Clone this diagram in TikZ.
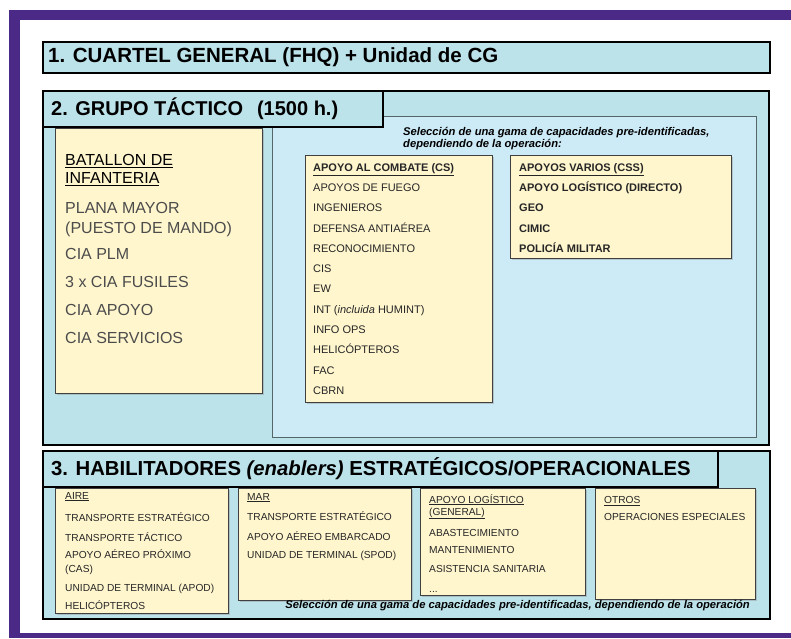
\documentclass[tikz,border=0pt]{standalone}
\usepackage{fontspec}
\setmainfont{Liberation Sans}
\usetikzlibrary{positioning,shadows}

\definecolor{framepurple}{RGB}{74,42,134}
\definecolor{capblue}{RGB}{188,226,234}
\definecolor{panelblue}{RGB}{205,234,247}
\definecolor{noteyellow}{RGB}{255,246,206}

\begin{document}
\begin{tikzpicture}[x=1pt,y=-1pt,
    outer box/.style={draw=black,line width=2.2pt,fill=capblue,anchor=north west,inner sep=0pt,
                      drop shadow={shadow xshift=1pt,shadow yshift=-1pt,opacity=.4}},
    tab box/.style={draw=black,line width=1.8pt,fill=capblue,anchor=north west,inner sep=0pt},
    panel box/.style={draw=black!55!capblue,line width=1pt,fill=panelblue,anchor=north west,inner sep=0pt},
    unit box/.style={draw=black!75,line width=1.1pt,fill=noteyellow,anchor=north west,inner sep=0pt,
                     drop shadow={shadow xshift=1pt,shadow yshift=-1pt,opacity=.35}},
    head text/.style={font=\fontsize{20}{24}\selectfont\bfseries,inner sep=0pt,anchor=west},
    item list/.style={align=left,anchor=north west,inner sep=0pt,text=black!85},
    note text/.style={font=\fontsize{11.2}{12}\selectfont\bfseries\itshape,inner sep=0pt,text=black}]
  \useasboundingbox (0,0) rectangle (791,638);
  \fill[framepurple] (9,10) rectangle (791,638);
  \fill[white] (20,20) rectangle (791,633);

  % 1. cuartel general
  \node[outer box,minimum width=727pt,minimum height=31pt] (hq) at (42,41) {};
  \node[head text,font=\fontsize{20.5}{24}\selectfont\bfseries,right=6pt of hq.west] (hqtitle)
    {1. CUARTEL GENERAL (FHQ) + Unidad de CG};

  % 2. grupo tactico
  \node[outer box,minimum width=726pt,minimum height=354pt] (grupo) at (42,90) {};
  \node[panel box,minimum width=484pt,minimum height=321pt] (panel) at (272,116) {};
  \node[tab box,minimum width=340pt,minimum height=36pt] (grupotab) at (42,90) {};
  \node[head text,right=9pt of grupotab.west] (grupotitle) {2. GRUPO TÁCTICO\hspace{14pt}(1500 h.)};

  \node[unit box,minimum width=207pt,minimum height=265pt] (batallon) at (55,128) {};
  \node[item list,text=black!70,font=\fontsize{16}{18}\selectfont,below right=26pt and 10pt of batallon.north west] (batallontext)
    {{\color{black}\underline{BATALLON DE}}\\ {\color{black}\underline{INFANTERIA}}\\[12pt]
     PLANA MAYOR\\[2pt] (PUESTO DE MANDO)\\[8pt] CIA PLM\\[10pt] 3 x CIA FUSILES\\[10pt]
     CIA APOYO\\[10pt] CIA SERVICIOS};

  \node[note text,align=left,below right=11pt and 131pt of panel.north west] (seleccion)
    {Selección de una gama de capacidades pre-identificadas,\\ dependiendo de la operación:};

  \node[unit box,minimum width=187pt,minimum height=247pt] (cs) at (305,155) {};
  \node[item list,font=\fontsize{11}{20.3}\selectfont,below right=8pt and 8pt of cs.north west] (cstext)
    {\textbf{\underline{APOYO AL COMBATE (CS)}}\\ APOYOS DE FUEGO\\ INGENIEROS\\ DEFENSA ANTIAÉREA\\
     RECONOCIMIENTO\\ CIS\\ EW\\ INT (\textit{incluida} HUMINT)\\ INFO OPS\\ HELICÓPTEROS\\ FAC\\ CBRN};

  \node[unit box,minimum width=221pt,minimum height=103pt] (css) at (510,155) {};
  \node[item list,font=\fontsize{11}{20.3}\selectfont\bfseries,below right=8pt and 9pt of css.north west] (csstext)
    {\underline{APOYOS VARIOS (CSS)}\\ APOYO LOGÍSTICO (DIRECTO)\\ GEO\\ CIMIC\\ POLICÍA MILITAR};

  % 3. habilitadores
  \node[outer box,minimum width=727pt,minimum height=168pt] (habil) at (42,450) {};
  \node[tab box,minimum width=675pt,minimum height=36pt] (habiltab) at (42,450) {};
  \node[head text,font=\fontsize{20.3}{24}\selectfont\bfseries,right=9pt of habiltab.west] (habiltitle)
    {3. HABILITADORES \textit{(enablers)} ESTRATÉGICOS/OPERACIONALES};

  \node[unit box,minimum width=173pt,minimum height=125pt] (aire) at (55,488) {};
  \node[item list,font=\fontsize{10.2}{13}\selectfont,below right=4pt and 10pt of aire.north west] (airetext)
    {\underline{AIRE}\\[9pt] TRANSPORTE ESTRATÉGICO\\[7pt] TRANSPORTE TÁCTICO\\[4pt]
     APOYO AÉREO PRÓXIMO\\[1pt] (CAS)\\[6pt] UNIDAD DE TERMINAL (APOD)\\[5pt] HELICÓPTEROS};

  \node[unit box,minimum width=173pt,minimum height=112pt] (mar) at (238,488) {};
  \node[item list,font=\fontsize{10.2}{13}\selectfont,below right=5pt and 9pt of mar.north west] (martext)
    {\underline{MAR}\\[7pt] TRANSPORTE ESTRATÉGICO\\[7pt] APOYO AÉREO EMBARCADO\\[5pt] UNIDAD DE TERMINAL (SPOD)};

  \node[unit box,minimum width=165pt,minimum height=107pt] (logis) at (420,488) {};
  \node[item list,font=\fontsize{10.2}{12}\selectfont,below right=6pt and 9pt of logis.north west] (logistext)
    {\underline{APOYO LOGÍSTICO}\\ \underline{(GENERAL)}\\[9pt] ABASTECIMIENTO\\[5pt] MANTENIMIENTO\\[7pt]
     ASISTENCIA SANITARIA\\[8pt] ...};

  \node[unit box,minimum width=160pt,minimum height=111pt] (otros) at (595,488) {};
  \node[item list,font=\fontsize{10.2}{13}\selectfont,below right=8pt and 9pt of otros.north west] (otrostext)
    {\underline{OTROS}\\[4pt] OPERACIONES ESPECIALES};

  \node[note text,anchor=east] (seleccion2) at (750,606)
    {Selección de una gama de capacidades pre-identificadas, dependiendo de la operación};
\end{tikzpicture}
\end{document}
